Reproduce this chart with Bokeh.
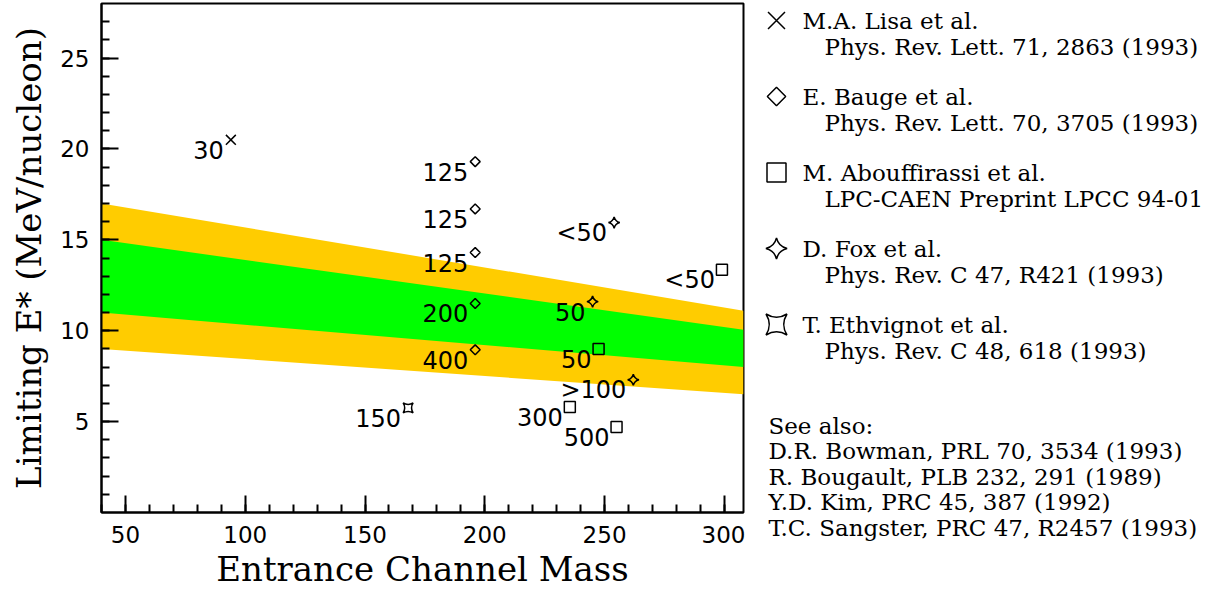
import numpy as np
from bokeh.plotting import figure
from bokeh.layouts import row
from bokeh.models import Range1d, FixedTicker
from bokeh.core.properties import value
from bokeh.embed import file_html
from bokeh.resources import INLINE

# ---------------- data ----------------
band_mass = [40, 308]
outer_low = [9.0, 6.5]
outer_high = [17.0, 11.1]
inner_low = [11.0, 8.0]
inner_high = [15.0, 10.05]

lisa_mass = [94]
lisa_e = [20.5]
lisa_lbl = ["30"]

bauge_mass = [196, 196, 196, 196, 196]
bauge_e = [19.3, 16.7, 14.3, 11.5, 8.95]
bauge_lbl = ["125", "125", "125", "200", "400"]

abouf_mass = [299, 247.5, 235.5, 255]
abouf_e = [13.35, 9.0, 5.8, 4.7]
abouf_lbl = ["<50", "50", "300", "500"]

fox_mass = [254, 245, 262]
fox_e = [15.95, 11.6, 7.3]
fox_lbl = ["<50", "50", ">100"]

ethv_mass = [168]
ethv_e = [5.75]
ethv_lbl = ["150"]

x_ticks = [50, 100, 150, 200, 250, 300]
x_minor = list(range(40, 310, 10))
y_ticks = [5, 10, 15, 20, 25]
y_minor = list(range(1, 28))

leg_author = ["M.A. Lisa et al.", "E. Bauge et al.", "M. Abouffirassi et al.",
              "D. Fox et al.", "T. Ethvignot et al."]
leg_ref = ["Phys. Rev. Lett. 71, 2863 (1993)", "Phys. Rev. Lett. 70, 3705 (1993)",
           "LPC-CAEN Preprint LPCC 94-01", "Phys. Rev. C 47, R421 (1993)",
           "Phys. Rev. C 48, 618 (1993)"]
see_also = ["See also:", "D.R. Bowman, PRL 70, 3534 (1993)",
            "R. Bougault, PLB 232, 291 (1989)", "Y.D. Kim, PRC 45, 387 (1992)",
            "T.C. Sangster, PRC 47, R2457 (1993)"]

# ---------------- main plot ----------------
SERIF = "DejaVu Serif"
SANS = "DejaVu Sans"

p = figure(width=745, height=595, x_range=Range1d(40, 308), y_range=Range1d(0, 28),
           output_backend="svg", toolbar_location=None,
           min_border_left=101, min_border_right=2, min_border_top=3,
           min_border_bottom=83)
p.background_fill_color = "white"
p.border_fill_color = "white"
p.outline_line_color = "black"
p.outline_line_width = 2
p.grid.visible = False

p.xaxis.ticker = FixedTicker(ticks=x_ticks, minor_ticks=x_minor)
p.yaxis.ticker = FixedTicker(ticks=y_ticks, minor_ticks=y_minor)
for ax in (p.xaxis[0], p.yaxis[0]):
    ax.axis_line_width = 2
    ax.axis_line_color = "black"
    ax.major_tick_in = 17
    ax.major_tick_out = 0
    ax.minor_tick_in = 8
    ax.minor_tick_out = 0
    ax.major_tick_line_width = 2
    ax.minor_tick_line_width = 2
    ax.major_label_text_font = SANS
    ax.major_label_text_font_size = "23px"
    ax.major_label_text_color = "black"
    ax.axis_label_text_font = SERIF
    ax.axis_label_text_font_size = "34px"
    ax.axis_label_text_font_style = "normal"
    ax.axis_label_text_color = "black"
p.xaxis.axis_label = "Entrance Channel Mass"
p.yaxis.axis_label = "Limiting E* (MeV/nucleon)"
p.xaxis.major_label_standoff = 13
p.yaxis.major_label_standoff = 12
p.xaxis.axis_label_standoff = 3
p.yaxis.axis_label_standoff = 8

p.varea(x=band_mass, y1=outer_low, y2=outer_high, fill_color="#FFCC00")
p.varea(x=band_mass, y1=inner_low, y2=inner_high, fill_color="#00FF00")

mk = dict(line_color="black", line_width=1.5, fill_color=None)
p.scatter(lisa_mass, lisa_e, marker="x", size=14, **mk)
p.scatter(bauge_mass, bauge_e, marker="square", angle=np.pi / 4, size=7, **mk)
p.scatter(abouf_mass, abouf_e, marker="square", size=11, **mk)
p.scatter(fox_mass, fox_e, marker="square_pin", angle=np.pi / 4, size=8, **mk)
p.scatter(ethv_mass, ethv_e, marker="square_pin", size=10, **mk)

lbl = dict(text_align="right", text_baseline="middle", x_offset=-7, y_offset=10,
           text_font=value(SANS), text_font_size="24px", text_color="black")
for xs, ys, ts in [(lisa_mass, lisa_e, lisa_lbl), (bauge_mass, bauge_e, bauge_lbl),
                   (abouf_mass, abouf_e, abouf_lbl), (fox_mass, fox_e, fox_lbl),
                   (ethv_mass, ethv_e, ethv_lbl)]:
    p.text(x=xs, y=ys, text=ts, **lbl)

# ---------------- legend panel (page-pixel coordinates) ----------------
q = figure(width=478, height=595, x_range=Range1d(745, 1223),
           y_range=Range1d(595, 0),
           output_backend="svg", toolbar_location=None, min_border=0)
q.frame_align = False
q.axis.visible = False
q.grid.visible = False
q.outline_line_color = None
q.background_fill_color = "white"
q.border_fill_color = "white"

item_y = [20 + 76 * i for i in range(5)]
ref_y = [y + 26 for y in item_y]
mx = 776
q.scatter([mx], [item_y[0]], marker="x", size=24, **mk)
q.scatter([mx], [item_y[1]], marker="square", angle=np.pi / 4, size=13, **mk)
q.scatter([mx], [item_y[2]], marker="square", size=19, **mk)
q.scatter([mx], [item_y[3]], marker="square_pin", angle=np.pi / 4, size=15, **mk)
q.scatter([mx], [item_y[4]], marker="square_pin", size=21, **mk)

ltxt = dict(text_align="left", text_baseline="middle", text_font=value(SERIF),
            text_font_size="23px", text_color="black")
sa_y = [425 + 25.5 * j for j in range(5)]
q.text(x=[802] * 5, y=item_y, text=leg_author, **ltxt)
q.text(x=[824] * 5, y=ref_y, text=leg_ref, **ltxt)
q.text(x=[768] * 5, y=sa_y, text=see_also, **ltxt)

layout = row(p, q, spacing=0)
open("out.html", "w").write(file_html(layout, INLINE))
